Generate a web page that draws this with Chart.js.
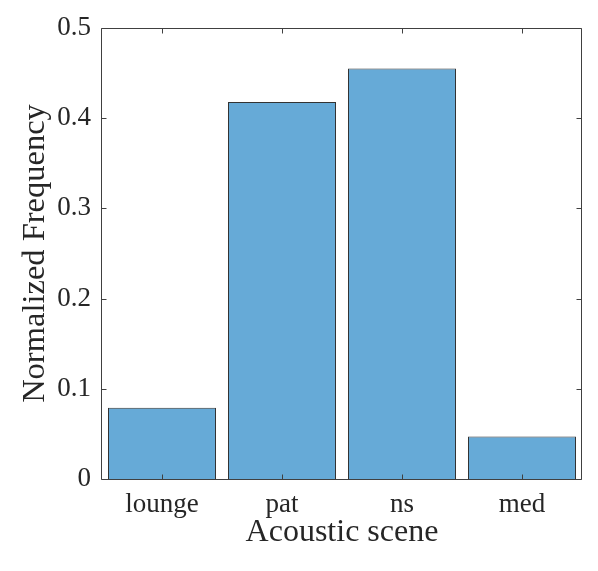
<!DOCTYPE html>
<html><head><meta charset="utf-8">
<script src="https://cdn.jsdelivr.net/npm/chart.js@4/dist/chart.umd.min.js"></script>
<style>html,body{margin:0;padding:0;background:#fff;overflow:hidden}</style>
</head><body>
<canvas id="c" width="598" height="571" style="width:598px;height:571px"></canvas>
<script>
const categories = ['lounge', 'pat', 'ns', 'med'];
const normalizedFrequency = [0.079, 0.418, 0.455, 0.047];
const yTicks = [0, 0.1, 0.2, 0.3, 0.4, 0.5];
const xTitle = 'Acoustic scene';
const yTitle = 'Normalized Frequency';

const AXIS = '#404040';
const TEXT = '#262626';
const FONT = '"Liberation Serif", "Times New Roman", serif';

const boxPlugin = {
  id: 'matlabBox',
  afterDatasetsDraw(chart) {
    const {ctx, chartArea: a, scales: {x, y}} = chart;
    const L = 5;
    const l = a.left - 0.5, r = a.right - 0.5, t = a.top + 0.5, b = a.bottom + 0.5;
    ctx.save();
    ctx.strokeStyle = AXIS;
    ctx.lineWidth = 1;
    ctx.beginPath();
    ctx.moveTo(l, t); ctx.lineTo(r, t); ctx.lineTo(r, b); ctx.lineTo(l, b); ctx.closePath();
    y.ticks.forEach(tk => {
      const py = Math.round(y.getPixelForValue(tk.value)) + 0.5;
      ctx.moveTo(l, py); ctx.lineTo(l + L, py);
      ctx.moveTo(r, py); ctx.lineTo(r - L, py);
    });
    categories.forEach((c, i) => {
      const px = Math.round(x.getPixelForValue(i)) + 0.5;
      ctx.moveTo(px, b); ctx.lineTo(px, b - L);
      ctx.moveTo(px, t); ctx.lineTo(px, t + L);
    });
    ctx.stroke();
    ctx.restore();
  }
};

new Chart(document.getElementById('c'), {
  type: 'bar',
  data: {
    labels: categories,
    datasets: [{
      data: normalizedFrequency,
      backgroundColor: 'rgb(102,170,215)',
      borderColor: '#333333',
      borderWidth: 1,
      barPercentage: 0.9,
      categoryPercentage: 1.0
    }]
  },
  options: {
    responsive: false,
    animation: false,
    devicePixelRatio: 1,
    layout: { padding: { top: 28, right: 16, bottom: 0, left: 0 } },
    plugins: { legend: { display: false }, tooltip: { enabled: false } },
    scales: {
      x: {
        offset: true,
        grid: { display: false, drawTicks: false },
        border: { display: false },
        ticks: { color: TEXT, font: { family: FONT, size: 27 }, padding: 10, maxRotation: 0 },
        title: { display: true, text: xTitle, color: TEXT, font: { family: FONT, size: 32 }, padding: { top: 0, bottom: 19 } },
        afterFit(s) { s.height = 92; }
      },
      y: {
        min: 0, max: 0.5,
        grid: { display: false, drawTicks: false },
        border: { display: false },
        afterBuildTicks(s) { s.ticks = yTicks.map(v => ({ value: v })); },
        ticks: { color: TEXT, font: { family: FONT, size: 27 }, padding: 11, callback: v => String(v) },
        title: { display: true, text: yTitle, color: TEXT, font: { family: FONT, size: 32.5 }, padding: { top: 16, bottom: 0 } },
        afterFit(s) { s.width = 102; }
      }
    }
  },
  plugins: [boxPlugin]
});
</script>
</body></html>
